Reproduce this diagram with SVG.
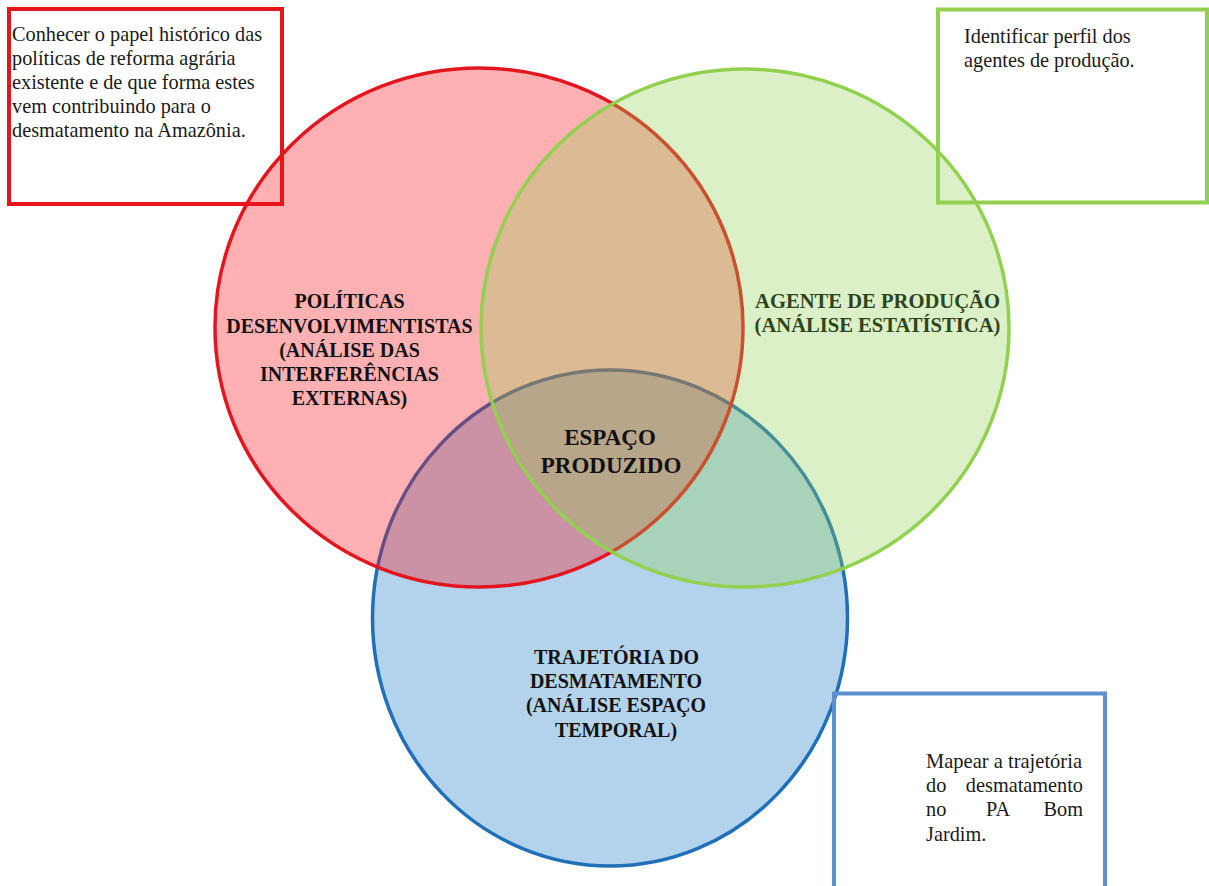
<svg xmlns="http://www.w3.org/2000/svg" width="1209" height="886" viewBox="0 0 1209 886">
  <style>
    .lbl { font-family: "Liberation Serif", "Times New Roman", serif; font-weight: bold; font-size: 20px; fill: #111111; text-anchor: middle; }
    .note { font-family: "Liberation Serif", "Times New Roman", serif; font-size: 20.3px; fill: #1a1a1a; }
    .box { fill: none; stroke-width: 4; }
  </style>
  <rect x="0" y="0" width="1209" height="886" fill="#ffffff"/>

  <g id="circle-trajetoria">
    <ellipse cx="610" cy="618" rx="237.5" ry="248" fill="#B3D3EC" stroke="#1F70B8" stroke-width="3.5"/>
  </g>
  <g id="circle-politicas">
    <ellipse cx="479" cy="327.5" rx="264" ry="259.5" fill="rgb(255,10,20)" fill-opacity="0.32" stroke="#E3161F" stroke-width="3.5"/>
  </g>
  <g id="circle-agente">
    <ellipse cx="745" cy="328" rx="264" ry="259" fill="#92D050" fill-opacity="0.32" stroke="#92D050" stroke-width="3.5"/>
  </g>

  <g id="label-politicas">
    <text class="lbl" x="349.5" y="308">POLÍTICAS</text>
    <text class="lbl" x="349.5" y="333">DESENVOLVIMENTISTAS</text>
    <text class="lbl" x="349.5" y="357">(ANÁLISE DAS</text>
    <text class="lbl" x="349.5" y="381">INTERFERÊNCIAS</text>
    <text class="lbl" x="349.5" y="405">EXTERNAS)</text>
  </g>
  <g id="label-agente">
    <text class="lbl" x="877.5" y="308" style="fill:#2D451C;font-size:20.6px">AGENTE DE PRODUÇÃO</text>
    <text class="lbl" x="877.5" y="332" style="fill:#2D451C;font-size:20.6px">(ANÁLISE ESTATÍSTICA)</text>
  </g>
  <g id="label-espaco">
    <text class="lbl" x="610" y="445" style="font-size:23px">ESPAÇO</text>
    <text class="lbl" x="611" y="473" style="font-size:23px">PRODUZIDO</text>
  </g>
  <g id="label-trajetoria">
    <text class="lbl" x="616.5" y="664">TRAJETÓRIA DO</text>
    <text class="lbl" x="616" y="688">DESMATAMENTO</text>
    <text class="lbl" x="616" y="712">(ANÁLISE ESPAÇO</text>
    <text class="lbl" x="616" y="737">TEMPORAL)</text>
  </g>

  <g id="box-politicas">
    <rect class="box" x="9" y="9" width="273" height="195" stroke="#E8141C"/>
    <text class="note" x="12" y="41">Conhecer o papel histórico das</text>
    <text class="note" x="12" y="65">políticas de reforma agrária</text>
    <text class="note" x="12" y="89">existente e de que forma estes</text>
    <text class="note" x="12" y="113">vem contribuindo para o</text>
    <text class="note" x="12" y="137">desmatamento na Amazônia.</text>
  </g>
  <g id="box-agente">
    <rect class="box" x="938" y="9.5" width="269" height="193" stroke="#92D050"/>
    <text class="note" x="964" y="43">Identificar perfil dos</text>
    <text class="note" x="964" y="67">agentes de produção.</text>
  </g>
  <g id="box-trajetoria">
    <rect class="box" x="834" y="693.5" width="271" height="200" stroke="#5B8FCE" stroke-width="3.5"/>
    <text class="note" x="926" y="768" textLength="156" lengthAdjust="spacingAndGlyphs">Mapear a trajetória</text>
    <text class="note" x="926" y="792">do</text>
    <text class="note" x="1083" y="792" text-anchor="end">desmatamento</text>
    <text class="note" x="926" y="816">no</text>
    <text class="note" x="986" y="816">PA</text>
    <text class="note" x="1083" y="816" text-anchor="end">Bom</text>
    <text class="note" x="926" y="841">Jardim.</text>
  </g>
  <g id="connectors"></g>
</svg>
